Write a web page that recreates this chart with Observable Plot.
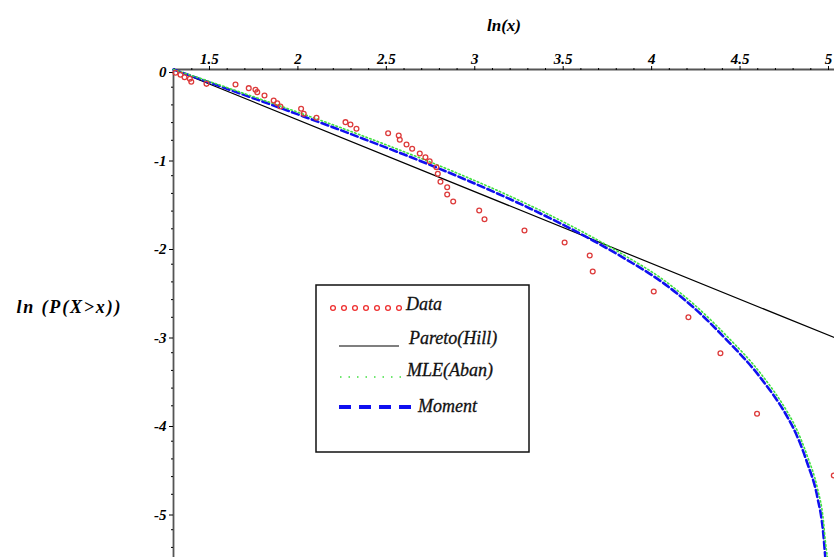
<!DOCTYPE html>
<html><head><meta charset="utf-8">
<script src="https://cdn.jsdelivr.net/npm/d3@7"></script>
<script src="https://cdn.jsdelivr.net/npm/@observablehq/plot@0.6"></script>
<style>
html,body{margin:0;padding:0;background:#fff;}
#chart{position:relative;width:834px;height:557px;overflow:hidden;}
</style></head><body><div id="chart"></div>
<script>
// ---- axes ----
const xDomain = [1.2965, 5.034];
const yDomain = [-5.514, 0];
const xTicks = [1.5, 2, 2.5, 3, 3.5, 4, 4.5, 5];
const xMinorTicks = [1.3, 1.4, 1.6, 1.7, 1.8, 1.9, 2.1, 2.2, 2.3, 2.4, 2.6, 2.7, 2.8, 2.9, 3.1, 3.2, 3.3, 3.4, 3.6, 3.7, 3.8, 3.9, 4.1, 4.2, 4.3, 4.4, 4.6, 4.7, 4.8, 4.9];
const yTicks = [0, -1, -2, -3, -4, -5];
const yMinorTicks = [-0.2, -0.4, -0.6, -0.8, -1.2, -1.4, -1.6, -1.8, -2.2, -2.4, -2.6, -2.8, -3.2, -3.4, -3.6, -3.8, -4.2, -4.4, -4.6, -4.8, -5.2, -5.4];
const xLabel = "ln(x)";
const yLabel = "ln (P(X>x))";
const legendLabels = ["Data", "Pareto(Hill)", "MLE(Aban)", "Moment"];

// ---- data (ln x, ln P(X>x)) ----
const dataX = [1.308, 1.336, 1.359, 1.389, 1.397, 1.483, 1.647, 1.722, 1.760, 1.770, 1.811, 1.863, 1.883, 1.901, 2.018, 2.033, 2.105, 2.269, 2.297, 2.331, 2.510, 2.570, 2.576, 2.614, 2.646, 2.689, 2.721, 2.745, 2.783, 2.791, 2.806, 2.844, 2.844, 2.878, 3.025, 3.055, 3.281, 3.508, 3.650, 3.667, 4.012, 4.208, 4.389, 4.596, 5.030];
const dataY = [-0.037, -0.060, -0.087, -0.105, -0.139, -0.162, -0.169, -0.211, -0.229, -0.256, -0.294, -0.350, -0.381, -0.418, -0.444, -0.501, -0.546, -0.595, -0.621, -0.670, -0.720, -0.746, -0.794, -0.847, -0.896, -0.949, -0.991, -1.036, -1.104, -1.179, -1.269, -1.330, -1.412, -1.492, -1.593, -1.692, -1.819, -1.955, -2.102, -2.282, -2.508, -2.799, -3.206, -3.890, -4.588];

// Pareto (Hill) straight line
const paretoX = [1.2965, 5.034];
const paretoY = [0, -3.03];

// MLE (Aban) curve
const mleX = [1.2965, 1.466, 1.658, 1.845, 2.031, 2.224, 2.410, 2.597, 2.789, 2.936, 3.128, 3.315, 3.484, 3.671, 3.863, 4.050, 4.236, 4.428, 4.615, 4.767, 4.801, 4.880, 4.937, 4.971, 4.982, 4.994];
const mleY = [0, -0.113, -0.245, -0.374, -0.505, -0.644, -0.783, -0.927, -1.078, -1.201, -1.367, -1.539, -1.705, -1.901, -2.120, -2.353, -2.648, -3.018, -3.431, -3.868, -3.988, -4.366, -4.728, -5.092, -5.322, -5.514];

// Moment curve
const momentX = [1.2965, 1.466, 1.658, 1.845, 2.031, 2.224, 2.410, 2.597, 2.789, 2.936, 3.128, 3.315, 3.484, 3.671, 3.863, 4.050, 4.236, 4.428, 4.615, 4.767, 4.801, 4.880, 4.937, 4.971, 4.982];
const momentY = [0, -0.122, -0.260, -0.394, -0.530, -0.672, -0.814, -0.958, -1.112, -1.234, -1.401, -1.573, -1.739, -1.935, -2.154, -2.389, -2.687, -3.063, -3.481, -3.924, -4.050, -4.446, -4.830, -5.250, -5.514];

const toRows = (xs, ys) => xs.map((x, i) => ({x, y: ys[i]}));
const dataRows = toRows(dataX, dataY);
const paretoRows = toRows(paretoX, paretoY);
const mleRows = toRows(mleX, mleY);
const momentRows = toRows(momentX, momentY);

const font = "'Liberation Serif', 'Times New Roman', serif";

const plot = Plot.plot({
  width: 834,
  height: 557,
  marginLeft: 173,
  marginTop: 69,
  marginRight: 0,
  marginBottom: 0,
  x: {domain: xDomain},
  y: {domain: yDomain},
  style: {fontFamily: font, fontStyle: "italic", fontWeight: "bold", fontSize: "15px", background: "white", color: "black", overflow: "hidden"},
  marks: [
    // axis lines
    Plot.ruleY([yDomain[1]], {stroke: "#555", strokeWidth: 1.8}),
    Plot.ruleX([xDomain[0]], {stroke: "#555", strokeWidth: 1.8}),
    // major ticks + labels
    Plot.axisX({anchor: "top", ticks: xTicks, tickSize: 4, tickPadding: 2, tickFormat: d => String(d), label: null, fontSize: 15, fontWeight: "bold", fontStyle: "italic", fontFamily: font}),
    Plot.axisX({anchor: "top", ticks: xMinorTicks, tickSize: 2, tickFormat: () => "", label: null}),
    Plot.axisY({anchor: "left", ticks: yTicks, tickSize: 4, tickPadding: 3, tickFormat: d => String(d), label: null, dy: 3, fontSize: 15, fontWeight: "bold", fontStyle: "italic", fontFamily: font}),
    Plot.axisY({anchor: "left", ticks: yMinorTicks, tickSize: 2, tickFormat: () => "", label: null}),
    // axis titles
    Plot.text([xLabel], {frameAnchor: "top", dy: -51, text: d => d, fontSize: 17, fontWeight: "bold", fontStyle: "italic", fontFamily: font}),
    Plot.text([yLabel], {frameAnchor: "left", dx: -105, dy: -6, textAnchor: "middle", text: d => d, fontSize: 18, fontWeight: "bold", fontStyle: "italic", fontFamily: font}),
    // series
    Plot.line(paretoRows, {x: "x", y: "y", stroke: "#000", strokeWidth: 1.2}),
    Plot.line(momentRows, {x: "x", y: "y", stroke: "#1010f0", strokeWidth: 2.6, strokeDasharray: "7,3.5", curve: "monotone-x"}),
    Plot.line(mleRows, {x: "x", y: "y", stroke: "#40e040", strokeWidth: 1.6, strokeDasharray: "1.5,2.5", curve: "monotone-x"}),
    Plot.dot(dataRows, {x: "x", y: "y", r: 2.4, stroke: "#dd3b3b", strokeWidth: 1.3, fill: "none"})
  ]
});

document.getElementById("chart").appendChild(plot);

const svg = d3.select(plot);
// stretch the y title to the reference width
svg.selectAll("text").filter(function() { return this.textContent === yLabel; })
  .attr("textLength", 104).attr("lengthAdjust", "spacing");

// ---- legend box (drawn inside the SVG) ----
const lg = svg.append("g").attr("font-family", font).attr("font-style", "italic").attr("font-weight", "normal")
  .attr("font-size", 18).attr("fill", "#111").attr("text-anchor", "start");
lg.append("rect").attr("x", 316).attr("y", 285).attr("width", 213).attr("height", 167)
  .attr("fill", "white").attr("stroke", "#111").attr("stroke-width", 1.5);
for (let i = 0; i < 7; i++) {
  lg.append("circle").attr("cx", 333 + i * 11).attr("cy", 308).attr("r", 2.4)
    .attr("fill", "none").attr("stroke", "#ee3030").attr("stroke-width", 1.3);
}
const lt = (x, y, s) => lg.append("text").attr("x", x).attr("y", y).attr("dy", "0.35em")
  .attr("stroke", "#111").attr("stroke-width", 0.3).text(s);
lt(406, 304, legendLabels[0]);
lg.append("line").attr("x1", 339).attr("x2", 399).attr("y1", 346).attr("y2", 346).attr("stroke", "#000").attr("stroke-width", 1.2);
lt(409, 338, legendLabels[1]);
lg.append("line").attr("x1", 340).attr("x2", 407).attr("y1", 377).attr("y2", 377).attr("stroke", "#40e040").attr("stroke-width", 1.6).attr("stroke-dasharray", "1.5,7");
lt(407, 370, legendLabels[2]);
lg.append("line").attr("x1", 339).attr("x2", 411).attr("y1", 407).attr("y2", 407).attr("stroke", "#1010f0").attr("stroke-width", 4).attr("stroke-dasharray", "12,8");
lt(418, 406, legendLabels[3]);
</script></body></html>
